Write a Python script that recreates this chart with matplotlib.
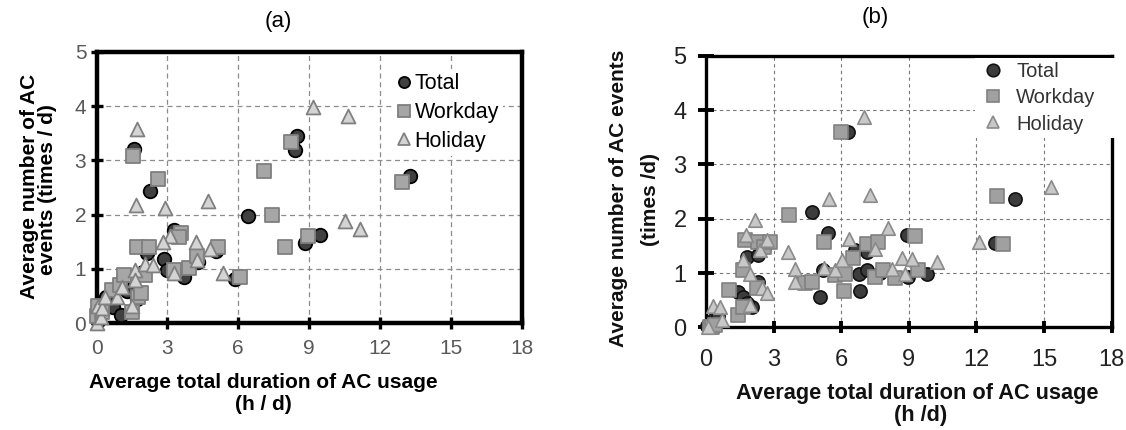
import matplotlib
matplotlib.use("Agg")
import matplotlib.pyplot as plt
from matplotlib.patches import Rectangle
from matplotlib.lines import Line2D

plt.rcParams['font.family'] = ['Liberation Sans', 'DejaVu Sans']

# ---------------- data ----------------
x_ticks = [0, 3, 6, 9, 12, 15, 18]
y_ticks = [0, 1, 2, 3, 4, 5]
series_names = ["Total", "Workday", "Holiday"]

a_total_x = [0.05, 0.27, 0.39, 0.70, 1.04, 1.07, 1.30, 1.70, 1.60, 2.27, 2.12, 1.97, 3.30, 2.87, 2.97, 3.70, 4.28, 5.06, 5.86, 6.43, 8.47, 8.40, 8.83, 9.46, 13.27]
a_total_y = [0.05, 0.24, 0.49, 0.30, 0.15, 0.77, 0.60, 0.45, 3.20, 2.44, 1.29, 0.95, 1.71, 1.19, 0.99, 0.85, 1.12, 1.34, 0.82, 1.98, 3.44, 3.19, 1.47, 1.63, 2.71]

a_work_x = [0.00, 0.05, 0.25, 0.64, 1.00, 1.18, 1.49, 1.77, 1.90, 2.05, 1.53, 2.59, 1.70, 2.22, 3.56, 3.50, 3.30, 3.93, 4.24, 5.13, 6.08, 7.09, 7.44, 8.00, 8.23, 8.97, 12.92]
a_work_y = [0.13, 0.31, 0.20, 0.61, 0.70, 0.89, 0.21, 0.49, 0.55, 0.88, 3.08, 2.66, 1.41, 1.41, 1.66, 1.58, 0.99, 1.02, 1.23, 1.40, 0.85, 2.80, 2.00, 1.41, 3.33, 1.60, 2.60]

a_hol_x = [0.00, 0.06, 0.20, 0.22, 0.36, 0.86, 1.07, 1.49, 1.63, 1.63, 2.05, 2.41, 1.70, 1.66, 2.90, 4.73, 3.11, 2.83, 4.21, 4.81, 4.24, 3.30, 5.37, 9.18, 10.66, 10.52, 11.16]
a_hol_y = [0.00, 0.31, 0.12, 0.28, 0.49, 0.49, 0.67, 0.31, 0.98, 0.80, 1.10, 1.07, 3.57, 2.17, 2.12, 2.26, 1.60, 1.50, 1.50, 1.37, 1.17, 0.93, 0.93, 3.99, 3.82, 1.88, 1.73]

b_total_x = [0.05, 0.20, 0.35, 0.55, 1.43, 1.66, 2.03, 1.80, 1.81, 2.32, 2.32, 2.60, 4.25, 4.69, 5.06, 5.20, 5.43, 6.32, 6.61, 7.13, 6.77, 6.84, 7.13, 7.70, 8.91, 8.98, 9.80, 12.83, 13.71, 6.00]
b_total_y = [0.02, 0.10, 0.15, 0.20, 0.65, 0.56, 0.38, 0.45, 1.30, 1.33, 0.84, 1.50, 0.84, 2.13, 0.56, 1.05, 1.73, 3.60, 1.42, 1.39, 0.99, 0.66, 1.06, 1.00, 1.70, 0.93, 0.99, 1.56, 2.36, 1.00]

b_work_x = [0.18, 0.25, 0.40, 1.03, 1.43, 1.66, 1.66, 1.73, 2.25, 2.32, 2.57, 2.84, 3.68, 4.39, 4.69, 5.25, 5.73, 5.98, 6.13, 6.17, 6.51, 7.13, 7.65, 7.50, 7.87, 8.39, 9.28, 9.42, 12.93, 13.20]
b_work_y = [0.01, 0.01, 0.05, 0.69, 0.23, 0.38, 1.05, 1.61, 0.72, 1.58, 1.48, 1.58, 2.06, 0.82, 0.84, 1.58, 0.96, 3.59, 0.67, 0.99, 1.27, 1.53, 1.58, 0.92, 1.05, 0.90, 1.68, 1.05, 2.42, 1.53]

b_hol_x = [0.10, 0.30, 0.62, 0.70, 1.66, 1.78, 1.95, 1.95, 2.17, 2.40, 2.47, 2.69, 2.72, 3.62, 3.95, 3.95, 5.25, 5.47, 5.73, 6.02, 6.35, 7.01, 7.28, 7.50, 8.09, 8.24, 8.69, 8.83, 9.13, 10.27, 12.13, 15.30]
b_hol_y = [0.01, 0.39, 0.38, 0.13, 1.24, 1.70, 0.99, 0.41, 1.98, 1.42, 0.72, 0.63, 1.61, 1.39, 1.07, 0.84, 1.10, 2.36, 1.05, 1.24, 1.63, 3.88, 2.44, 1.45, 1.82, 1.07, 1.27, 0.98, 1.25, 1.21, 1.58, 2.59]

# ---------------- figure ----------------
W, H = 1126, 430
fig = plt.figure(figsize=(W / 100, H / 100), dpi=100)

def fx(px):
    return px / W

def fy(py):
    return 1 - py / H

ax_a = fig.add_axes([fx(96.5), fy(323.3), fx(521.7 - 96.5), (323.3 - 51.7) / H])
ax_b = fig.add_axes([fx(706), fy(327.3), fx(1111.6 - 706), (327.3 - 55.8) / H])

# ---- panel (a) ----
ms = 95
ax_a.scatter(a_total_x, a_total_y, s=ms, marker='o', facecolor='#404040', edgecolor='#000000', linewidth=1.3, zorder=3, clip_on=False)
ax_a.scatter(a_work_x, a_work_y, s=ms, marker='s', facecolor='#a6a6a6', edgecolor='#7f7f7f', linewidth=1.3, zorder=3, clip_on=False)
ax_a.scatter(a_hol_x, a_hol_y, s=ms * 1.05, marker='^', facecolor='#d4d4d4', edgecolor='#808080', linewidth=1.3, zorder=3, clip_on=False)

ax_a.set_xlim(0, 18)
ax_a.set_ylim(0, 5)
ax_a.set_xticks(x_ticks)
ax_a.set_yticks(y_ticks)
ax_a.grid(True, color='#8c8c8c', linestyle=(0, (4, 3)), linewidth=0.9)
ax_a.set_axisbelow(True)
for sp in ax_a.spines.values():
    sp.set_linewidth(3.2)
    sp.set_color('black')
ax_a.tick_params(axis='both', direction='inout', length=8.6, width=2.4, color='black', labelcolor='#595959', labelsize=15)
ax_a.tick_params(axis='x', pad=7)
ax_a.tick_params(axis='y', pad=3)

handles_a = [
    Line2D([], [], marker='o', linestyle='none', markersize=8, markerfacecolor='#404040', markeredgecolor='#000000', markeredgewidth=1.3),
    Line2D([], [], marker='s', linestyle='none', markersize=8, markerfacecolor='#a6a6a6', markeredgecolor='#7f7f7f', markeredgewidth=1.3),
    Line2D([], [], marker='^', linestyle='none', markersize=8, markerfacecolor='#d4d4d4', markeredgecolor='#808080', markeredgewidth=1.3),
]
leg_a = ax_a.legend(handles_a, series_names, loc='upper left', bbox_to_anchor=((393 - 96.5) / 425.2, 1 - (69 - 51.7) / 271.6),
                    frameon=True, facecolor='white', edgecolor='none', framealpha=1, fancybox=False,
                    fontsize=15.5, handlelength=0.6, handletextpad=0.2, labelspacing=0.36, borderpad=0.2, borderaxespad=0)
for t in leg_a.get_texts():
    t.set_color('#000000')

fig.text(fx(278), fy(21), "(a)", ha='center', va='center', fontsize=16)
fig.text(fx(30), fy(186), "Average number of AC", rotation=90, ha='center', va='center', fontsize=15, fontweight='bold')
fig.text(fx(48), fy(190), "events (times / d)", rotation=90, ha='center', va='center', fontsize=15, fontweight='bold')
fig.text(fx(263), fy(383), "Average total duration of AC usage", ha='center', va='center', fontsize=15, fontweight='bold')
fig.text(fx(263), fy(405), "(h / d)", ha='center', va='center', fontsize=15, fontweight='bold')

# ---- panel (b) ----
ms_b = 90
ax_b.scatter(b_total_x, b_total_y, s=ms_b, marker='o', facecolor='#3c3c3c', edgecolor='#111111', linewidth=1.2, zorder=3, clip_on=False)
ax_b.scatter(b_work_x, b_work_y, s=ms_b, marker='s', facecolor='#a0a0a0', edgecolor='#808080', linewidth=1.2, zorder=3, clip_on=False)
ax_b.scatter(b_hol_x, b_hol_y, s=ms_b * 1.05, marker='^', facecolor='#c8c8c8', edgecolor='#8a8a8a', linewidth=1.2, zorder=3, clip_on=False)

ax_b.set_xlim(0, 18)
ax_b.set_ylim(0, 5)
ax_b.set_xticks(x_ticks)
ax_b.set_yticks(y_ticks)
ax_b.grid(True, color='#777777', linestyle=(0, (3, 3)), linewidth=0.8)
ax_b.set_axisbelow(True)
for sp in ax_b.spines.values():
    sp.set_linewidth(2.4)
    sp.set_color('black')
ax_b.tick_params(axis='y', direction='inout', length=12, width=2.8, color='black', labelcolor='#222222', labelsize=17, pad=8)
ax_b.tick_params(axis='x', direction='inout', length=9, width=2.8, color='black', labelcolor='#222222', labelsize=17, pad=11)

# white box behind the legend (covers grid and right spine, as in the original)
ax_b.add_patch(Rectangle((0.663, 0.697), 0.36, 0.295, transform=ax_b.transAxes, facecolor='white',
                         edgecolor='none', zorder=4, clip_on=False))
handles_b = [
    Line2D([], [], marker='o', linestyle='none', markersize=9, markerfacecolor='#3c3c3c', markeredgecolor='#111111', markeredgewidth=1.2),
    Line2D([], [], marker='s', linestyle='none', markersize=9, markerfacecolor='#a0a0a0', markeredgecolor='#808080', markeredgewidth=1.2),
    Line2D([], [], marker='^', linestyle='none', markersize=9, markerfacecolor='#c8c8c8', markeredgecolor='#8a8a8a', markeredgewidth=1.2),
]
leg_b = ax_b.legend(handles_b, series_names, loc='upper left', bbox_to_anchor=((981 - 706) / 405.6, 1 - (58 - 55.8) / 271.5),
                    frameon=False, fontsize=14.5, handlelength=0.8, handletextpad=0.75, labelspacing=0.36,
                    borderpad=0.2, borderaxespad=0)
leg_b.set_zorder(6)
for t in leg_b.get_texts():
    t.set_color('#333333')

fig.text(fx(875), fy(17), "(b)", ha='center', va='center', fontsize=16)
fig.text(fx(619), fy(198), "Average number of AC events", rotation=90, ha='center', va='center', fontsize=15, fontweight='bold', color='#111111')
fig.text(fx(651), fy(200), "(times /d)", rotation=90, ha='center', va='center', fontsize=15, fontweight='bold', color='#111111')
fig.text(fx(917), fy(393), "Average total duration of AC usage", ha='center', va='center', fontsize=15.7, fontweight='bold', color='#111111')
fig.text(fx(921), fy(415), "(h /d)", ha='center', va='center', fontsize=15.7, fontweight='bold', color='#111111')

fig.savefig("out.png", dpi=100, facecolor='white')
